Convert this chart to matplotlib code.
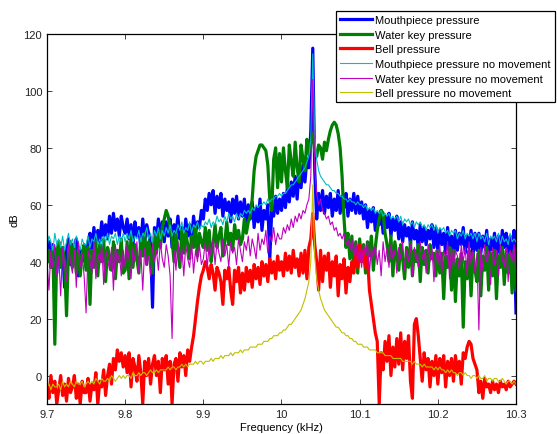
import matplotlib
matplotlib.use('Agg')
import matplotlib.pyplot as plt
import numpy as np

plt.rcParams['font.family'] = ['Liberation Sans', 'DejaVu Sans']

# frequency grid (kHz), one value every 2.5 Hz
freq = np.linspace(9.7, 10.3, 241)

# dB values, 20 per 0.05 kHz
mouthpiece = [
    42, 47, 38, 46, 44, 36, 47, 40, 45, 31, 44, 48, 39, 46, 42, 48, 35, 44, 40, 45,
    38, 47, 50, 44, 52, 46, 51, 47, 54, 49, 53, 48, 56, 50, 57, 51, 55, 49, 56, 52,
    50, 55, 48, 53, 46, 54, 49, 52, 45, 55, 47, 53, 50, 46, 24, 52, 47, 55, 48, 54,
    47, 54, 49, 55, 45, 53, 50, 56, 48, 52, 46, 55, 49, 53, 47, 56, 50, 54, 52, 58,
    55, 62, 58, 64, 60, 65, 57, 63, 59, 64, 56, 62, 58, 61, 54, 62, 57, 63, 55, 61,
    56, 62, 53, 60, 55, 61, 52, 59, 54, 62, 51, 58, 55, 60, 41, 58, 56, 63, 57, 62,
    58, 64, 59, 66, 61, 68, 63, 70, 62, 72, 66, 74, 68, 76, 73, 86, 115, 72, 55, 64,
    58, 65, 57, 63, 59, 64, 56, 62, 58, 65, 57, 63, 59, 64, 56, 62, 58, 64, 57, 63,
    57, 61, 55, 60, 52, 58, 54, 59, 51, 57, 53, 58, 50, 56, 52, 57, 49, 55, 51, 56,
    48, 54, 47, 53, 49, 52, 46, 54, 48, 51, 45, 53, 47, 52, 46, 51, 48, 53, 45, 52,
    44, 51, 46, 50, 43, 52, 45, 49, 42, 51, 44, 50, 46, 52, 43, 49, 45, 51, 42, 50,
    44, 50, 43, 49, 45, 51, 42, 48, 44, 50, 41, 49, 43, 51, 45, 50, 42, 49, 40, 51,
    22]

water_key = [
    40, 44, 38, 45, 11, 43, 47, 38, 45, 40, 21, 44, 47, 38, 46, 36, 44, 35, 43, 46,
    37, 45, 25, 44, 38, 47, 35, 46, 40, 48, 33, 45, 42, 37, 47, 34, 44, 40, 48, 36,
    37, 47, 34, 49, 38, 46, 41, 36, 48, 42, 50, 39, 47, 44, 36, 49, 43, 50, 45, 52,
    55, 58, 56, 52, 48, 40, 50, 44, 38, 51, 43, 50, 46, 41, 49, 45, 52, 42, 50, 47,
    45, 52, 44, 51, 40, 46, 53, 45, 49, 52, 42, 47, 54, 46, 50, 44, 53, 48, 51, 46,
    48, 55, 50, 54, 56, 62, 72, 77, 79, 81, 81, 80, 79, 74, 62, 58, 76, 80, 66, 78,
    68, 80, 72, 66, 81, 75, 70, 82, 73, 68, 81, 76, 72, 83, 78, 82, 85, 79, 77, 81,
    80, 76, 82, 79, 83, 86, 88, 89, 88, 85, 80, 70, 55, 45, 50, 41, 49, 38, 47, 36,
    48, 40, 46, 36, 47, 42, 49, 37, 45, 51, 55, 58, 57, 50, 46, 40, 49, 35, 47, 42,
    37, 46, 41, 34, 45, 38, 47, 35, 44, 40, 46, 33, 45, 39, 44, 36, 46, 41, 43, 35,
    44, 36, 43, 27, 42, 38, 45, 30, 44, 26, 41, 35, 43, 17, 40, 34, 44, 28, 43, 37,
    33, 44, 28, 42, 37, 45, 30, 43, 35, 44, 27, 42, 38, 45, 32, 44, 36, 43, 29, 44,
    30]

bell = [
    -4, -8, 0, -6, -2, -10, -5, 0, -7, -3, -9, -1, -6, -4, 0, -8, -3, -10, -2, -6,
    -6, -1, -9, -3, -5, 1, -10, -2, -4, 2, -7, 0, 4, -3, 6, 2, 9, 5, 8, 3,
    7, 1, 8, -4, 6, 3, -2, 7, 1, -10, 5, 0, 6, -3, 4, 7, 0, 5, -6, 6,
    2, 7, -3, 5, -10, 4, 6, -2, 8, 3, 7, 0, 9, 5, 10, 14, 20, 26, 31, 35,
    37, 40, 38, 34, 39, 36, 30, 38, 36, 33, 25, 37, 34, 38, 30, 25, 37, 33, 38, 29,
    36, 30, 38, 33, 37, 31, 39, 34, 38, 32, 40, 35, 39, 33, 41, 36, 40, 34, 42, 37,
    40, 35, 43, 37, 42, 36, 44, 38, 41, 35, 43, 36, 44, 34, 45, 48, 57, 46, 40, 30,
    44, 33, 42, 37, 43, 31, 40, 35, 42, 28, 39, 34, 41, 29, 38, 33, 40, 36, 43, 38,
    46, 40, 44, 38, 42, 30, 25, 20, 15, 12, -10, 8, 2, 12, 5, 14, 0, 10, 3, 13,
    4, 15, 2, 12, 6, 14, -2, -8, 18, 20, 14, 6, -2, 8, 2, 6, -4, 5, 0, 7,
    -3, 6, 1, 7, -4, 5, 0, 6, -2, 7, 1, 5, -3, 8, 6, 10, 12, 11, 6, 4,
    2, -6, -2, -8, -1, -4, -3, -6, -2, -5, -3, -6, -2, -4, -3, -5, -2, -4, -3, -2,
    -3]

mouthpiece_still = [
    45, 49, 47, 44, 50, 46, 48, 45, 49, 44, 47, 50, 46, 48, 45, 49, 47, 44, 48, 46,
    46, 49, 45, 48, 47, 50, 46, 48, 45, 49, 47, 50, 46, 49, 48, 50, 46, 49, 47, 50,
    47, 50, 48, 51, 47, 49, 48, 51, 47, 50, 49, 52, 48, 50, 47, 51, 49, 52, 48, 51,
    49, 52, 50, 53, 49, 51, 50, 53, 51, 54, 50, 52, 51, 54, 50, 53, 52, 54, 51, 53,
    52, 54, 53, 55, 52, 54, 53, 56, 54, 55, 53, 56, 54, 57, 55, 56, 54, 57, 55, 57,
    56, 58, 57, 58, 57, 59, 58, 60, 59, 60, 60, 61, 60, 62, 61, 62, 62, 63, 63, 64,
    63, 64, 64, 65, 66, 67, 67, 68, 69, 70, 71, 72, 73, 75, 77, 83, 113, 84, 76, 72,
    70, 69, 68, 67, 67, 66, 65, 65, 64, 64, 63, 63, 62, 62, 61, 62, 61, 61, 60, 61,
    60, 60, 59, 60, 58, 59, 58, 59, 57, 58, 57, 58, 56, 57, 56, 57, 55, 56, 55, 56,
    54, 56, 53, 55, 54, 55, 53, 54, 52, 54, 53, 54, 52, 53, 51, 53, 52, 53, 51, 53,
    50, 52, 51, 52, 50, 51, 49, 51, 50, 51, 48, 50, 49, 51, 48, 50, 49, 50, 48, 50,
    47, 50, 48, 49, 47, 50, 46, 49, 48, 49, 47, 50, 46, 49, 47, 48, 46, 50, 47, 48,
    47]

water_key_still = [
    40, 30, 44, 38, 46, 35, 42, 28, 45, 39, 33, 46, 40, 36, 44, 31, 47, 38, 43, 35,
    22, 44, 40, 36, 47, 34, 43, 39, 46, 32, 44, 41, 37, 45, 30, 46, 39, 43, 35, 44,
    38, 46, 41, 34, 45, 40, 47, 36, 44, 30, 45, 39, 42, 35, 46, 40, 44, 37, 47, 41,
    38, 46, 42, 35, 13, 44, 37, 47, 40, 45, 35, 46, 41, 38, 47, 36, 44, 40, 46, 39,
    41, 47, 38, 46, 42, 48, 39, 47, 43, 40, 48, 42, 46, 38, 47, 43, 45, 39, 48, 44,
    40, 47, 44, 49, 42, 48, 45, 41, 50, 44, 48, 46, 51, 43, 49, 47, 52, 46, 50, 48,
    48, 52, 50, 53, 51, 55, 52, 56, 54, 57, 55, 58, 57, 60, 62, 70, 104, 72, 64, 60,
    62, 58, 57, 55, 56, 53, 54, 51, 52, 49, 50, 48, 50, 46, 48, 44, 48, 42, 47, 40,
    45, 38, 46, 42, 47, 36, 45, 41, 46, 39, 44, 35, 47, 40, 45, 38, 46, 41, 44, 36,
    45, 41, 47, 37, 44, 40, 46, 35, 45, 42, 38, 47, 41, 44, 36, 46, 40, 45, 33, 44,
    39, 46, 36, 44, 41, 47, 34, 45, 38, 44, 42, 37, 46, 40, 45, 35, 47, 39, 44, 36,
    43, 16, 45, 37, 46, 40, 44, 32, 45, 39, 44, 35, 46, 41, 38, 45, 33, 44, 40, 46,
    35]

bell_still = [
    -4, -3, -5, -3, -4, -4, -3, -5, -2, -4, -3, -4, -2, -3, -4, -2, -3, -3, -2, -4,
    -3, -2, -3, -2, -3, -1, -2, -3, -1, -2, -2, -1, -2, 0, -1, -2, -1, 0, -1, 0,
    -1, 0, 0, -1, 1, 0, 0, 1, 0, 1, 1, 0, 1, 2, 1, 1, 2, 1, 2, 2,
    2, 2, 3, 2, 3, 3, 2, 3, 3, 4, 3, 4, 3, 4, 4, 4, 5, 4, 5, 5,
    4, 5, 5, 5, 6, 5, 6, 6, 6, 7, 6, 7, 7, 7, 8, 7, 8, 8, 8, 9,
    8, 9, 9, 9, 10, 10, 10, 10, 11, 11, 11, 12, 12, 12, 13, 13, 14, 14, 14, 15,
    15, 16, 16, 17, 18, 18, 19, 20, 21, 22, 23, 25, 27, 30, 33, 40, 67, 42, 34, 30,
    27, 25, 23, 22, 21, 20, 19, 18, 17, 17, 16, 15, 15, 14, 14, 13, 13, 12, 12, 11,
    11, 11, 10, 10, 10, 9, 9, 9, 9, 8, 8, 8, 8, 7, 7, 7, 7, 6, 6, 6,
    6, 6, 5, 5, 5, 5, 5, 4, 5, 4, 4, 4, 3, 4, 3, 3, 3, 3, 2, 3,
    2, 3, 2, 2, 1, 2, 1, 2, 1, 1, 0, 1, 1, 0, 1, 0, 0, -1, 0, 0,
    -1, 0, -1, -1, 0, -2, -1, -1, -2, -1, -1, -2, -2, -1, -2, -3, -2, -2, -3, -2,
    -3]

fig = plt.figure(figsize=(5.57, 4.35), dpi=100)
ax = fig.add_axes([47 / 557, 30 / 435, 469 / 557, 370 / 435])

ax.plot(freq, mouthpiece, color='#0000ff', lw=2.3, label='Mouthpiece pressure')
ax.plot(freq, water_key, color='#008000', lw=2.3, label='Water key pressure')
ax.plot(freq, bell, color='#ff0000', lw=2.3, label='Bell pressure')
ax.plot(freq, mouthpiece_still, color='#00bfbf', lw=0.8, label='Mouthpiece pressure no movement')
ax.plot(freq, water_key_still, color='#bf00bf', lw=0.8, label='Water key pressure no movement')
ax.plot(freq, bell_still, color='#bfbf00', lw=0.8, label='Bell pressure no movement')

ax.set_xlim(9.7, 10.3)
ax.set_ylim(-10, 120)
ax.set_xticks([9.7, 9.8, 9.9, 10.0, 10.1, 10.2, 10.3])
ax.set_xticklabels(['9.7', '9.8', '9.9', '10', '10.1', '10.2', '10.3'])
ax.set_yticks([0, 20, 40, 60, 80, 100, 120])
ax.tick_params(direction='in', length=3.5, width=0.6, top=True, right=True,
               labelsize=8, colors='#222222')
for s in ax.spines.values():
    s.set_linewidth(0.9)
ax.set_xlabel('Frequency (kHz)', fontsize=8, labelpad=2)
ax.set_ylabel('dB', fontsize=8, labelpad=3)

leg = ax.legend(loc='upper left', bbox_to_anchor=(336 / 557, 1 - 12 / 435),
                bbox_transform=fig.transFigure, borderaxespad=0, fontsize=8,
                fancybox=False, framealpha=1, edgecolor='black',
                handlelength=2.9, handletextpad=0.3, labelspacing=0.42,
                borderpad=0.35)
leg.get_frame().set_linewidth(0.9)

fig.savefig('out.png', dpi=100)
